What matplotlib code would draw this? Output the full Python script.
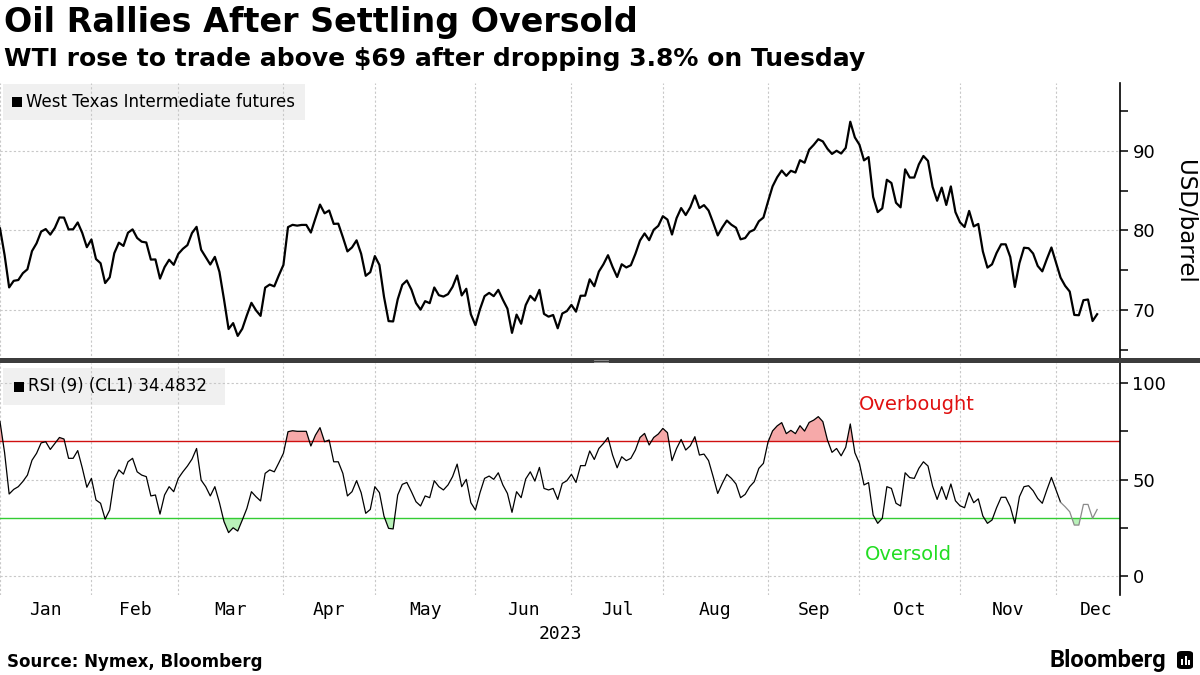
import matplotlib
matplotlib.use("Agg")
import matplotlib.pyplot as plt
import numpy as np
import pandas as pd
from matplotlib.patches import Rectangle, FancyBboxPatch

# ---------------- data ----------------
holidays = ["2023-01-02", "2023-01-16", "2023-02-20", "2023-05-29",
            "2023-06-19", "2023-07-04", "2023-09-04", "2023-11-23"]
dates = pd.bdate_range("2022-12-30", "2023-12-13")
dates = dates[~dates.isin(pd.to_datetime(holidays))]

wti_dec22 = [80.26]
wti_jan = [76.93, 72.84, 73.67, 73.77, 74.63, 75.12, 77.41, 78.39, 79.86, 80.18,
           79.48, 80.33, 81.64, 81.62, 80.13, 80.15, 81.01, 79.68, 77.90, 78.87]
wti_feb = [76.41, 75.88, 73.39, 74.11, 77.14, 78.47, 78.06, 79.72, 80.14, 79.06,
           78.59, 78.49, 76.34, 76.36, 73.95, 75.39, 76.32, 75.68, 77.05]
wti_mar = [77.69, 78.16, 79.68, 80.46, 77.58, 76.66, 75.72, 76.68, 74.80, 71.33,
           67.61, 68.35, 66.74, 67.64, 69.33, 70.90, 69.96, 69.26, 72.81, 73.20,
           72.97, 74.37, 75.67]
wti_apr = [80.42, 80.71, 80.61, 80.70, 80.70, 79.74, 81.53, 83.26, 82.16, 82.52,
           80.83, 80.86, 79.16, 77.37, 77.87, 78.76, 77.07, 74.30, 74.76, 76.78]
wti_may = [75.66, 71.66, 68.60, 68.56, 71.34, 73.16, 73.71, 72.56, 70.87, 70.04,
           71.11, 70.86, 72.83, 71.86, 71.69, 71.99, 72.91, 74.34, 71.83, 72.67,
           69.46, 68.09]
wti_jun = [70.10, 71.74, 72.15, 71.74, 72.53, 71.29, 70.17, 67.12, 69.42, 68.27,
           70.62, 71.78, 71.19, 72.53, 69.51, 69.16, 69.37, 67.70, 69.56, 69.86,
           70.64]
wti_jul = [69.79, 71.79, 71.80, 73.86, 72.99, 74.83, 75.75, 76.89, 75.42, 74.15,
           75.75, 75.35, 75.63, 77.07, 78.74, 79.63, 78.78, 80.09, 80.58, 81.80]
wti_aug = [81.37, 79.49, 81.55, 82.82, 81.94, 82.92, 84.40, 82.82, 83.19, 82.51,
           80.99, 79.38, 80.39, 81.25, 80.72, 80.35, 78.89, 79.05, 79.83, 80.10,
           81.16, 81.63, 83.63]
wti_sep = [85.55, 86.69, 87.54, 86.87, 87.51, 87.29, 88.84, 88.52, 90.16, 90.77,
           91.48, 91.20, 90.28, 89.63, 90.03, 89.68, 90.39, 93.68, 91.71, 90.79]
wti_oct = [88.82, 89.23, 84.22, 82.31, 82.79, 86.38, 85.97, 83.49, 82.91, 87.69,
           86.66, 86.66, 88.32, 89.37, 88.75, 85.49, 83.74, 85.39, 83.21, 85.54,
           82.31, 81.02]
wti_nov = [80.44, 82.46, 80.51, 80.82, 77.37, 75.33, 75.74, 77.17, 78.26, 78.26,
           76.66, 72.90, 75.89, 77.83, 77.77, 77.10, 75.54, 74.86, 76.41, 77.86,
           75.96]
wti_dec = [74.07, 73.04, 72.32, 69.38, 69.34, 71.23, 71.32, 68.61, 69.47]

rsi_dec22 = [80.0]
rsi_jan = [64, 42.5, 44.9, 46.3, 49, 52.3, 60, 63.6, 69, 69.6,
           65.6, 68.7, 71.8, 71, 61, 61, 65, 56, 46, 50.6]
rsi_feb = [39.4, 37.7, 29.5, 34.2, 50, 55, 52.8, 59.2, 61, 54,
           52.3, 51.5, 41.5, 42, 32.1, 42, 46.3, 43.7, 50.6]
rsi_mar = [54, 57, 60.6, 66.1, 49.7, 46.3, 41.5, 46.3, 38, 28.2,
           22.5, 25, 23.3, 29, 35, 43.7, 41.1, 38.9, 53.2, 55,
           54, 58.7, 63.6]
rsi_apr = [74.8, 75.3, 75, 75, 75, 67.4, 73, 76.9, 69.6, 70.5,
           59.2, 59.2, 53.2, 41.5, 43.7, 49.4, 43.2, 32.5, 34.5, 46.3]
rsi_may = [43.2, 31, 24.7, 24.4, 42, 47.5, 48.5, 43.7, 38.5, 36.3,
           41.5, 40.6, 49.4, 46.3, 44.6, 47.2, 51.5, 58, 46.3, 50.1,
           38, 34.2]
rsi_jun = [43.2, 50.6, 51.8, 50.1, 53.5, 47.2, 42.8, 33, 43.7, 40.6,
           50.3, 54, 49.2, 56.3, 45.4, 44.6, 45.4, 39.7, 48, 49.4,
           52.7]
rsi_jul = [48.5, 57.2, 57.2, 64.8, 60.4, 66.1, 68.7, 71.8, 62.7, 56.1,
           61.8, 59.8, 61, 65.3, 71.8, 73.9, 67.9, 71.8, 73.6, 76.5]
rsi_aug = [74.3, 59.8, 66.1, 70.8, 65.3, 67.5, 72.2, 62.7, 63.2, 59.8,
           51.5, 42.8, 48, 52.7, 50.6, 47.7, 40.6, 42.3, 46.3, 48.9,
           55.8, 58.4, 69.4]
rsi_sep = [75.2, 77.8, 79.5, 73.8, 75.5, 73.8, 77.9, 75.1, 79.6, 80.8,
           82.6, 80, 70.5, 64.1, 66.1, 62.3, 66.7, 78.8, 63.9, 58.4]
rsi_oct = [47.2, 48.4, 31.6, 27.3, 29.9, 46.3, 45.4, 37.7, 36.3, 53.5,
           51, 50.6, 55.8, 59.2, 57, 46.6, 39.7, 46.3, 39.7, 47.7,
           39, 36.4]
rsi_nov = [35.4, 43.2, 38, 40, 31.1, 27.3, 29, 35.4, 40.8, 40.8,
           35.9, 27.3, 41.1, 46.3, 46.8, 44.2, 40.2, 37.7, 44.6, 51.1,
           44.6]
rsi_dec = [38.2, 35.9, 33.3, 26.4, 26.4, 37.1, 37.1, 29.9, 34.4832]

overbought = 70
oversold = 30
month_labels = ["Jan", "Feb", "Mar", "Apr", "May", "Jun",
                "Jul", "Aug", "Sep", "Oct", "Nov", "Dec"]
year_label = "2023"
price_ticks = [70, 80, 90]
price_minor = [65, 75, 85, 95]
rsi_ticks = [0, 50, 100]
rsi_minor = [25, 75]

price = np.array(wti_dec22 + wti_jan + wti_feb + wti_mar + wti_apr + wti_may +
                 wti_jun + wti_jul + wti_aug + wti_sep + wti_oct + wti_nov + wti_dec)
rsi = np.array(rsi_dec22 + rsi_jan + rsi_feb + rsi_mar + rsi_apr + rsi_may +
               rsi_jun + rsi_jul + rsi_aug + rsi_sep + rsi_oct + rsi_nov + rsi_dec)
x = np.arange(len(dates))
n_final = len(rsi_dec)  # latest segment drawn in grey

# month boundaries (trading-day index)
bounds = []
for m in range(1, 13):
    first = np.where((dates.year == 2023) & (dates.month == m))[0][0]
    bounds.append(first - 1)
x_max = 245
ends = bounds[1:] + [x_max + 3.5]
centers = [(a + b) / 2 for a, b in zip(bounds, ends)]

# ---------------- figure ----------------
W, H = 1200, 675
fig = plt.figure(figsize=(W / 100, H / 100), dpi=100)
fig.patch.set_facecolor("white")


def fx(px):
    return px / W


def fy(py):
    return 1 - py / H


grid_kw = dict(color="#c8c8c8", linestyle=(0, (2, 2)), linewidth=0.8)

ax1 = fig.add_axes([0, fy(360), fx(1120), (360 - 83) / H])
ax2 = fig.add_axes([0, fy(595), fx(1120), (595 - 363) / H])

for ax in (ax1, ax2):
    ax.set_xlim(0, x_max)
    for s in ("left", "top", "bottom"):
        ax.spines[s].set_visible(False)
    ax.spines["right"].set_linewidth(1.2)
    ax.yaxis.tick_right()
    ax.tick_params(axis="y", which="both", direction="out", length=6, width=1.1,
                   labelsize=13, pad=3, colors="black")
    ax.tick_params(axis="x", which="both", length=0, labelbottom=False)
    ax.set_xticks([])
    for b in bounds:
        ax.axvline(b, zorder=0.5, **grid_kw)
    ax.set_axisbelow(True)

# price panel
ax1.set_ylim(63.71, 98.55)
ax1.set_yticks(price_ticks)
ax1.set_yticks(price_minor, minor=True)
for t in price_ticks:
    ax1.axhline(t, zorder=0.5, **grid_kw)
ax1.plot(x, price, color="black", linewidth=1.6, zorder=3)
fig.text(fx(1184), fy(222), "USD/barrel", rotation=270, fontsize=16.5,
         ha="center", va="center")

# RSI panel
ax2.set_ylim(-9.84, 110.4)
ax2.set_yticks(rsi_ticks)
ax2.set_yticks(rsi_minor, minor=True)
for t in rsi_ticks:
    ax2.axhline(t, zorder=0.5, **grid_kw)
ax2.axhline(overbought, color="#d01010", linewidth=1.0, zorder=2)
ax2.axhline(oversold, color="#33cc33", linewidth=1.0, zorder=2)
ax2.fill_between(x, rsi, overbought, where=rsi > overbought, interpolate=True,
                 color="#f6a9a9", linewidth=0, zorder=1.5)
ax2.fill_between(x, rsi, oversold, where=rsi < oversold, interpolate=True,
                 color="#b9f2b9", linewidth=0, zorder=1.5)
k = len(x) - n_final
ax2.plot(x[:k + 1], rsi[:k + 1], color="black", linewidth=0.9, zorder=3)
ax2.plot(x[k:], rsi[k:], color="#8a8a8a", linewidth=0.9, zorder=3)
ax2.text(fx(917), fy(405), "Overbought", transform=fig.transFigure, ha="center",
         va="center", fontsize=14, color="#e01010")
ax2.text(fx(908), fy(555), "Oversold", transform=fig.transFigure, ha="center",
         va="center", fontsize=14, color="#22dd22")

# month labels
for c, lab in zip(centers, month_labels):
    ax2.text(c, fy(610), lab, transform=ax2.get_xaxis_transform() if False else
             matplotlib.transforms.blended_transform_factory(ax2.transData, fig.transFigure),
             ha="center", va="center", fontsize=13, family="DejaVu Sans Mono")
fig.text(fx(560), fy(634), year_label, ha="center", va="center", fontsize=13,
         family="DejaVu Sans Mono")

# legend boxes
def legend_box(ax, x0, y0, x1, y1, label, sq_x):
    ax.add_patch(Rectangle((fx(x0), fy(y1)), fx(x1 - x0), (y1 - y0) / H,
                           transform=fig.transFigure, facecolor="#f0f0f0",
                           edgecolor="none", zorder=0.3, clip_on=False))
    yc = (y0 + y1) / 2
    ax.add_patch(Rectangle((fx(sq_x), fy(yc + 5)), fx(10), 10 / H,
                           transform=fig.transFigure, facecolor="black",
                           edgecolor="none", zorder=4, clip_on=False))
    ax.text(fx(sq_x + 14), fy(yc), label, transform=fig.transFigure,
            ha="left", va="center", fontsize=12, zorder=4)

legend_box(ax1, 3, 84, 305, 120, "West Texas Intermediate futures", 12)
legend_box(ax2, 3, 368, 225, 405, "RSI (9) (CL1) 34.4832", 14)

# separator bar between panels
fig.patches.append(Rectangle((0, fy(362.5)), 1, 4.5 / H, transform=fig.transFigure,
                             facecolor="#3c3c3c", edgecolor="none", zorder=5))
for dy in (359.5, 361.5):
    fig.lines.append(plt.Line2D([fx(594), fx(608)], [fy(dy), fy(dy)],
                                transform=fig.transFigure, color="#9a9a9a",
                                linewidth=0.6, zorder=6))

# titles
fig.text(fx(4), fy(6), "Oil Rallies After Settling Oversold", ha="left", va="top",
         fontsize=24, fontweight="bold")
fig.text(fx(4), fy(47), "WTI rose to trade above $69 after dropping 3.8% on Tuesday",
         ha="left", va="top", fontsize=18, fontweight="bold")
fig.text(fx(7), fy(662), "Source: Nymex, Bloomberg", ha="left", va="center",
         fontsize=12, fontweight="bold")
fig.text(fx(1166), fy(660), "Bloomberg", ha="right", va="center", fontsize=17,
         fontweight="bold", family="Roboto")
# logo mark
fig.patches.append(FancyBboxPatch((fx(1177), fy(669)), fx(16), 18 / H,
                                  boxstyle="round,pad=0,rounding_size=0.004",
                                  transform=fig.transFigure, facecolor="black",
                                  edgecolor="none"))
for bx, bh in ((1181, 6), (1184.5, 9), (1188, 5)):
    fig.patches.append(Rectangle((fx(bx), fy(665)), fx(2), bh / H,
                                 transform=fig.transFigure, facecolor="white",
                                 edgecolor="none", zorder=7))

fig.savefig("out.png", dpi=100)
